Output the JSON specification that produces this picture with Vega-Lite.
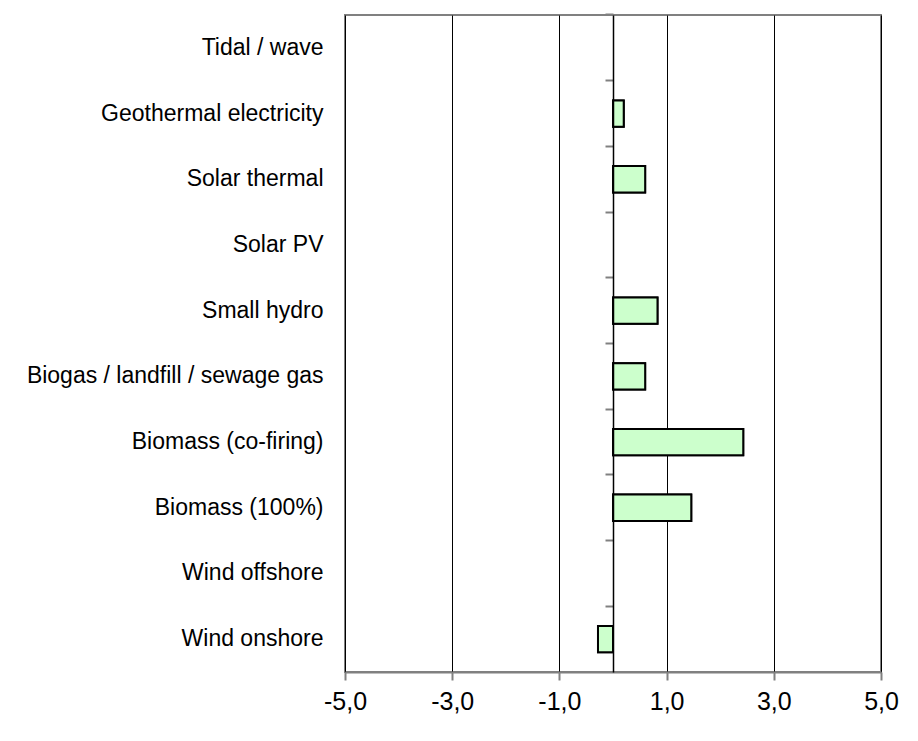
{
  "$schema": "https://vega.github.io/schema/vega-lite/v6.json",
  "autosize": {"type": "none"},
  "padding": {"left": 345, "top": 15, "right": 37, "bottom": 69},
  "width": 536,
  "height": 657,
  "background": "white",
  "config": {
    "view": {"stroke": "#808080", "strokeWidth": 2},
    "font": "Liberation Sans, Arial",
    "axisX": {
      "labelFont": "Liberation Sans, Arial",
      "labelFontSize": 25,
      "labelColor": "black",
      "labelPadding": 9,
      "labelFlush": false,
      "labelOverlap": false,
      "tickSize": 8,
      "tickColor": "#808080",
      "tickWidth": 2,
      "domainColor": "#808080",
      "domainWidth": 2,
      "grid": true,
      "gridColor": "black",
      "gridWidth": 1,
      "gridOpacity": 1,
      "title": null
    }
  },
  "data": {
    "values": [
      {"source": "Tidal / wave", "value": null},
      {"source": "Geothermal electricity", "value": 0.2},
      {"source": "Solar thermal", "value": 0.6},
      {"source": "Solar PV", "value": null},
      {"source": "Small hydro", "value": 0.83},
      {"source": "Biogas / landfill / sewage gas", "value": 0.6},
      {"source": "Biomass (co-firing)", "value": 2.43},
      {"source": "Biomass (100%)", "value": 1.46},
      {"source": "Wind offshore", "value": null},
      {"source": "Wind onshore", "value": -0.28}
    ]
  },
  "layer": [
    {
      "mark": {"type": "bar", "fill": "#CCFFCC", "stroke": "black", "strokeWidth": 2},
      "encoding": {
        "x": {
          "field": "value", "type": "quantitative",
          "scale": {"domain": [-5, 5], "nice": false, "zero": false},
          "axis": {"values": [-5, -3, -1, 1, 3, 5], "labelExpr": "(datum.value < 0 ? '-' : '') + abs(datum.value) + ',0'"}
        },
        "y": {
          "field": "source", "type": "nominal",
          "scale": {"domain": ["Tidal / wave", "Geothermal electricity", "Solar thermal", "Solar PV", "Small hydro", "Biogas / landfill / sewage gas", "Biomass (co-firing)", "Biomass (100%)", "Wind offshore", "Wind onshore"], "paddingInner": 0.6, "paddingOuter": 0.3},
          "axis": {"orient": "left", "title": null, "domain": false, "ticks": false, "labelPadding": 22, "labelFontSize": 23, "labelColor": "black", "labelLimit": 400, "labelFont": "Liberation Sans, Arial"}
        }
      }
    },
    {
      "mark": {"type": "bar", "fill": "#CCFFCC", "stroke": "black", "strokeWidth": 2},
      "encoding": {
        "x": {
          "field": "value", "type": "quantitative",
          "scale": {"domain": [-5, 5], "nice": false, "zero": false},
          "axis": {"values": [-5, -3, -1, 1, 3, 5], "labelExpr": "(datum.value < 0 ? '-' : '') + abs(datum.value) + ',0'"}
        },
        "y": {
          "field": "source", "type": "nominal",
          "axis": {"orient": "left", "title": null, "labels": false, "offset": -268, "domain": true, "domainColor": "black", "domainWidth": 1.5, "ticks": true, "bandPosition": -0.75, "tickSize": 8, "tickColor": "#808080", "tickWidth": 2, "zindex": 1}
        }
      }
    }
  ],
  "resolve": {"axis": {"y": "independent"}}
}
